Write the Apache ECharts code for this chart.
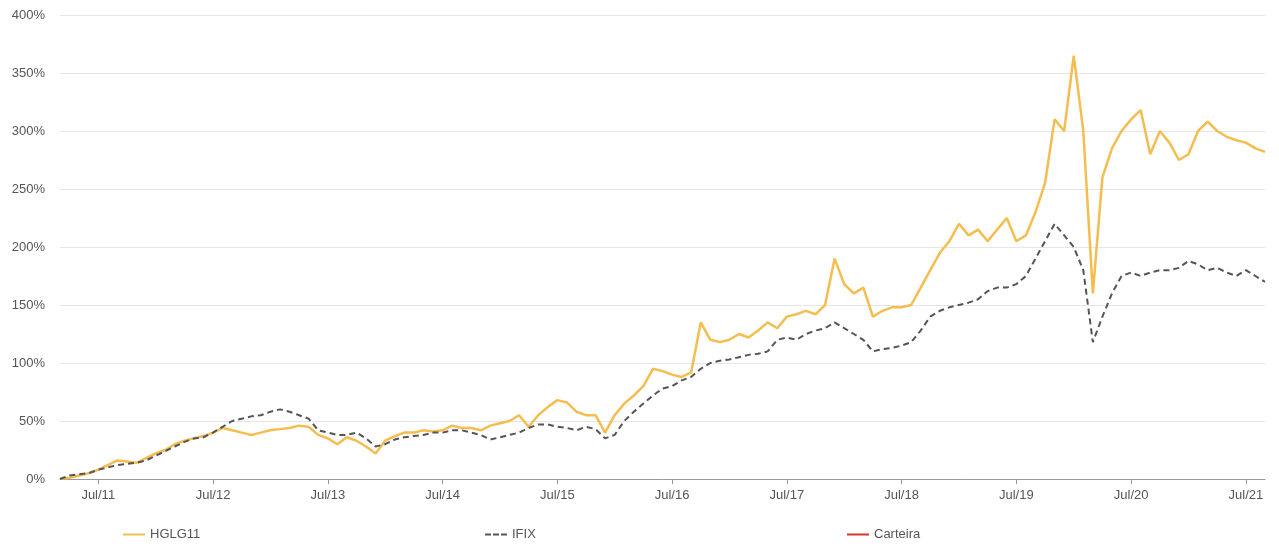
<!DOCTYPE html>
<html>
<head>
<meta charset="utf-8">
<script src="https://cdn.jsdelivr.net/npm/echarts@6/dist/echarts.min.js"></script>
<style>html,body{margin:0;padding:0;background:#fff}#chart{width:1279px;height:550px}</style>
</head>
<body>
<div id="chart"></div>
<script>
var monthNames = ['Jan','Fev','Mar','Abr','Mai','Jun','Jul','Ago','Set','Out','Nov','Dez'];
var months = [];
for (var y = 2011; y <= 2021; y++) {
  for (var m = 0; m < 12; m++) {
    if (y === 2011 && m < 2) continue;
    if (y === 2021 && m > 8) continue;
    months.push(monthNames[m] + '/' + String(y).slice(2));
  }
}
var hglg = [
  0,1,3,5,8,12,16,15,14,18,
  22,25,30,33,35,37,40,44,42,40,38,40,
  42,43,44,46,45,38,35,30,36,33,28,22,
  33,37,40,40,42,41,42,46,44,44,42,46,
  48,50,55,45,55,62,68,66,58,55,55,40,
  55,65,72,80,95,93,90,88,92,135,120,118,
  120,125,122,128,135,130,140,142,145,142,150,190,
  168,160,165,140,145,148,148,150,165,180,195,205,
  220,210,215,205,215,225,205,210,230,255,310,300,
  365,300,160,260,285,300,310,318,280,300,290,275,
  280,300,308,300,295,292,290,285,282
];
var ifix = [
  0,3,4,5,8,10,12,13,14,16,
  20,24,28,32,35,36,40,45,50,52,54,55,
  58,60,58,55,52,42,40,38,38,40,35,28,
  30,34,36,37,38,40,40,42,42,40,38,34,
  36,38,40,44,47,47,45,44,42,45,43,35,
  38,50,58,65,72,78,80,85,88,95,100,102,
  103,105,107,108,110,120,122,120,125,128,130,135,
  130,125,120,110,112,113,115,118,128,140,145,148,
  150,152,155,162,165,165,168,175,190,205,220,210,
  200,180,118,140,160,175,178,175,178,180,180,182,
  188,185,180,182,178,175,180,175,170
];
var yTicks = [0, 50, 100, 150, 200, 250, 300, 350, 400];

var isJul = function (i, v) { return v.indexOf('Jul/') === 0; };
var chart = echarts.init(document.getElementById('chart'));
var legendBase = { bottom: 4, icon: 'rect', itemWidth: 22, itemHeight: 2, textStyle: { color: '#555', fontSize: 13, fontFamily: 'Liberation Sans' } };
chart.setOption({
  animation: false,
  grid: { left: 60, right: 14, top: 15, bottom: 71 },
  legend: [
    Object.assign({ left: 118, data: ['HGLG11'] }, legendBase),
    Object.assign({ left: 480, data: [{ name: 'IFIX', icon: 'path://M0,0h6v2h-6z M8,0h6v2h-6z M16,0h6v2h-6z' }] }, legendBase),
    Object.assign({ left: 842, data: ['Carteira'] }, legendBase)
  ],
  xAxis: {
    type: 'category', data: months, boundaryGap: false,
    axisLine: { lineStyle: { color: '#999' } },
    axisTick: { interval: isJul, lineStyle: { color: '#999' } },
    axisLabel: { interval: isJul, color: '#555', fontSize: 13, fontFamily: 'Liberation Sans', margin: 10 }
  },
  yAxis: {
    type: 'value', min: yTicks[0], max: yTicks[yTicks.length - 1], interval: 50,
    axisLabel: { formatter: '{value}%', color: '#555', fontSize: 13, fontFamily: 'Liberation Sans', margin: 15 },
    splitLine: { lineStyle: { color: '#e6e6e6' } }
  },
  series: [
    { name: 'HGLG11', type: 'line', data: hglg, showSymbol: false, itemStyle: { color: '#f5bd50' }, lineStyle: { color: '#f5bd50', width: 2.5 } },
    { name: 'IFIX', type: 'line', data: ifix, showSymbol: false, itemStyle: { color: '#555' }, lineStyle: { color: '#555', width: 2, type: [6, 4] } },
    { name: 'Carteira', type: 'line', data: [], showSymbol: false, itemStyle: { color: '#d9342b' }, lineStyle: { color: '#d9342b', width: 2 } }
  ]
});
</script>
</body>
</html>
